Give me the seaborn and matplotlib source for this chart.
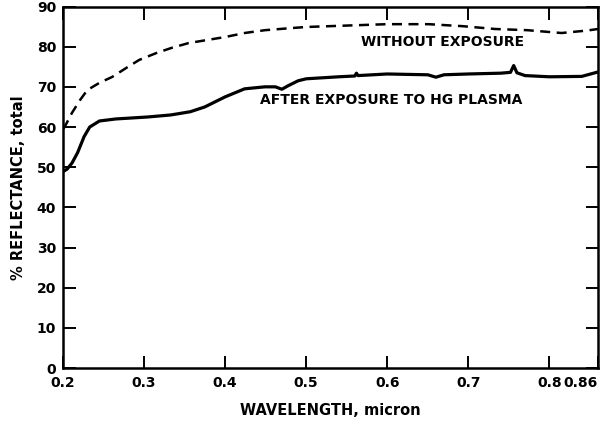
import matplotlib
matplotlib.use("Agg")
import matplotlib.pyplot as plt
import seaborn as sns
import pandas as pd

# ---- data ----
wl_without = [0.200, 0.202, 0.211, 0.221, 0.230, 0.245, 0.261, 0.278, 0.294, 0.315,
              0.334, 0.355, 0.376, 0.400, 0.424, 0.449, 0.480, 0.500, 0.571, 0.600,
              0.651, 0.693, 0.733, 0.773, 0.815, 0.846, 0.860]
refl_without = [59.5, 60.0, 63.5, 66.7, 69.2, 71.0, 72.5, 74.7, 76.7, 78.4,
                79.7, 80.9, 81.6, 82.4, 83.4, 84.1, 84.6, 84.9, 85.4, 85.6,
                85.6, 85.1, 84.4, 84.1, 83.4, 84.0, 84.4]

wl_after = [0.200, 0.205, 0.211, 0.218, 0.226, 0.233, 0.245, 0.265, 0.305, 0.333,
            0.357, 0.375, 0.400, 0.424, 0.449, 0.462, 0.470, 0.478, 0.490, 0.500,
            0.540, 0.560, 0.562, 0.564, 0.600, 0.650, 0.660, 0.670, 0.700, 0.740,
            0.752, 0.756, 0.760, 0.770, 0.800, 0.840, 0.860]
refl_after = [48.9, 49.5, 51.0, 53.6, 57.6, 60.0, 61.5, 62.0, 62.5, 63.0,
              63.8, 65.0, 67.5, 69.5, 70.0, 70.0, 69.4, 70.3, 71.5, 72.0,
              72.5, 72.7, 73.4, 72.8, 73.2, 73.0, 72.4, 73.0, 73.2, 73.4,
              73.6, 75.3, 73.5, 72.8, 72.5, 72.6, 73.7]

x_ticks = [0.2, 0.3, 0.4, 0.5, 0.6, 0.7, 0.8, 0.86]
x_ticklabels = ["0.2", "0.3", "0.4", "0.5", "0.6", "0.7", "0.8", "0.86"]
y_ticks = [0, 10, 20, 30, 40, 50, 60, 70, 80, 90]
y_ticklabels = ["0", "10", "20", "30", "40", "50", "60", "70", "80", "90"]

label_without = "WITHOUT EXPOSURE"
label_after = "AFTER EXPOSURE TO HG PLASMA"
x_label = "WAVELENGTH, micron"
y_label = "% REFLECTANCE, total"

df_without = pd.DataFrame({"wl": wl_without, "refl": refl_without})
df_after = pd.DataFrame({"wl": wl_after, "refl": refl_after})

sns.set_style("white")
plt.rcParams["font.family"] = ["DejaVu Sans"]
plt.rcParams["text.color"] = "black"
plt.rcParams["axes.labelcolor"] = "black"

fig = plt.figure(figsize=(6.02, 4.23), dpi=100)
ax = fig.add_axes([63 / 602, 1 - 368 / 423, (598 - 63) / 602, (368 - 6.5) / 423])

sns.lineplot(data=df_without, x="wl", y="refl", ax=ax, color="black",
             linewidth=1.8, linestyle=(0, (4, 2.6)), estimator=None, sort=False)
sns.lineplot(data=df_after, x="wl", y="refl", ax=ax, color="black",
             linewidth=2.3, estimator=None, sort=False)

ax.set_xlim(0.2, 0.86)
ax.set_ylim(0, 90)
ax.set_xticks(x_ticks)
ax.set_xticklabels(x_ticklabels)
ax.set_yticks(y_ticks)
ax.set_yticklabels(y_ticklabels)

for s in ax.spines.values():
    s.set_visible(True)
    s.set_linewidth(1.8)
    s.set_color("black")

ax.tick_params(axis="both", direction="in", length=9, width=1.4, colors="black",
               labelsize=10, pad=5)
ax.tick_params(axis="x", top=True, bottom=True, pad=6)
ax.tick_params(axis="y", left=True, right=True)
xlbls = ax.get_xticklabels()
for lbl in xlbls + ax.get_yticklabels():
    lbl.set_fontweight("bold")
xlbls[-1].set_horizontalalignment("right")
xlbls[-1].set_x(0.864)

ax.set_xlabel(x_label, fontsize=10.5, fontweight="bold", labelpad=9)
ax.set_ylabel(y_label, fontsize=10.5, fontweight="bold", labelpad=8)

ax.text(0.668, 81.1, label_without, fontsize=10, fontweight="bold",
        ha="center", va="center")
ax.text(0.443, 66.7, label_after, fontsize=10, fontweight="bold",
        ha="left", va="center")

fig.savefig("out.png", dpi=100, facecolor="white")
